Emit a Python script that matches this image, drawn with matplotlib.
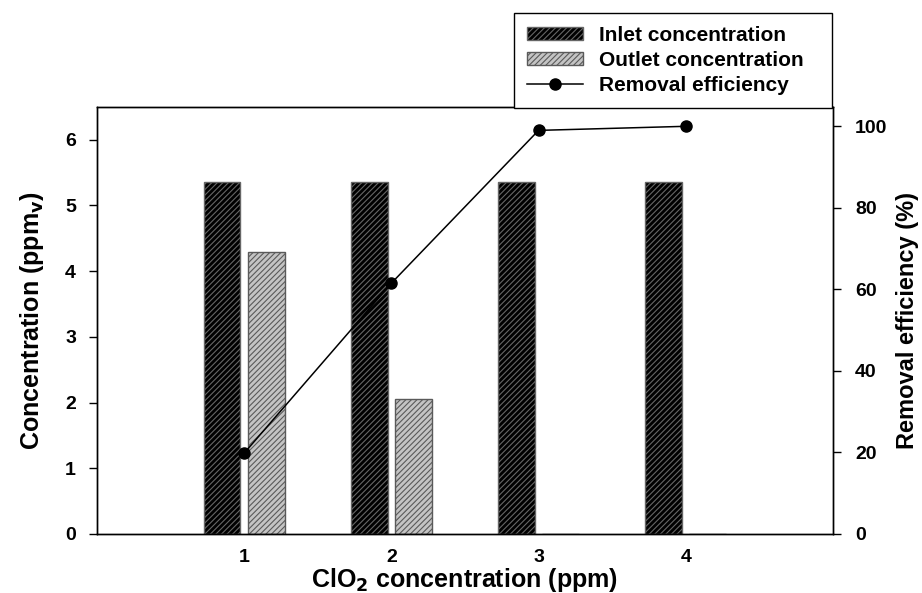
import numpy as np
import matplotlib
matplotlib.use('Agg')
import matplotlib.pyplot as plt
from matplotlib.patches import Patch
from matplotlib.lines import Line2D

# ClO2 dose (ppm) and measured values
clo2 = [1, 2, 3, 4]
inlet = [5.35, 5.35, 5.35, 5.35]
outlet = [4.29, 2.05, 0.0, 0.0]
efficiency = [19.8, 61.5, 99.0, 100.0]

plt.rcParams['font.family'] = ['Liberation Sans', 'DejaVu Sans']
plt.rcParams['font.weight'] = 'bold'
plt.rcParams['hatch.linewidth'] = 0.8

fig = plt.figure(figsize=(9.22, 5.93), dpi=100)
ax = fig.add_axes([0.105, 0.0995, 0.7985, 0.7205])
ax2 = ax.twinx()

x = np.array(clo2)
w = 0.25
off = 0.15
ax.bar(x - off, inlet, width=w, color='black', edgecolor='#666666',
       hatch='//////', linewidth=1, zorder=2)
ax.bar(x + off, outlet, width=w, color='#c4c4c4', edgecolor='#5a5a5a',
       hatch='//////', linewidth=1, zorder=2)

ax2.plot(x, efficiency, color='black', lw=1.1, marker='o', ms=8,
         zorder=3)

ax.set_xlim(0, 5)
ax.set_ylim(0, 6.5)
ax2.set_ylim(0, 104.8)
ax.set_xticks(clo2)
ax.set_yticks(range(0, 7))
ax2.set_yticks(range(0, 101, 20))

ax.tick_params(axis='x', length=0, pad=11, labelsize=14)
ax.tick_params(axis='y', direction='out', length=6, width=1, pad=9, labelsize=14)
ax2.tick_params(axis='y', direction='out', length=6, width=1, pad=10, labelsize=14)
for a in (ax, ax2):
    for s in a.spines.values():
        s.set_linewidth(1)
    for lab in a.get_xticklabels() + a.get_yticklabels():
        lab.set_fontweight('bold')

ax.set_xlabel('ClO$_\\mathbf{2}$ concentration (ppm)', fontsize=18,
              fontweight='bold', labelpad=0)
ax.set_ylabel('Concentration (ppm$_\\mathbf{v}$)', fontsize=18, fontweight='bold',
              labelpad=14)
ax2.set_ylabel('Removal efficiency (%)', fontsize=17, fontweight='bold',
               rotation=90, labelpad=6)

handles = [
    Patch(facecolor='black', edgecolor='#666666', hatch='//////', label='Inlet concentration'),
    Patch(facecolor='#c4c4c4', edgecolor='#5a5a5a', hatch='//////', label='Outlet concentration'),
    Line2D([], [], color='black', lw=1.1, marker='o', ms=8, label='Removal efficiency'),
]
leg = fig.legend(handles=handles, loc='upper left', mode='expand',
                 bbox_to_anchor=(514 / 922, 1 - 13 / 593, (832 - 514) / 922, 0),
                 prop={'size': 15, 'weight': 'bold'}, frameon=True,
                 fancybox=False, edgecolor='black', framealpha=1,
                 handlelength=2.7, handleheight=0.6, labelspacing=0.28,
                 borderpad=0.62, handletextpad=0.75, borderaxespad=0)
leg.get_frame().set_linewidth(1)

fig.savefig('out.png', dpi=100)
